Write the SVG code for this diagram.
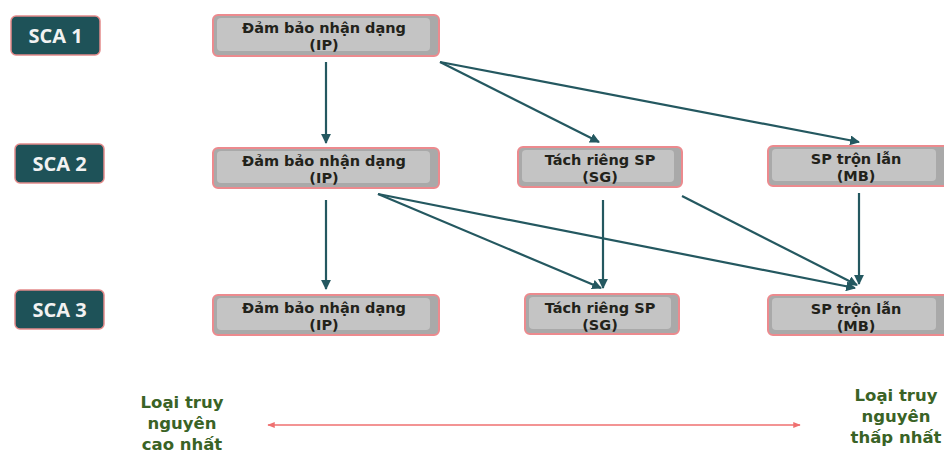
<svg xmlns="http://www.w3.org/2000/svg" width="944" height="457" viewBox="0 0 944 457">
<defs>
<style>
.sca rect{fill:#1e5258;stroke:#e38a8a;stroke-width:1.5}
.sca text{fill:#f2f2f2;font-family:"Open Sans","DejaVu Sans",sans-serif;font-weight:bold;font-size:20px;text-anchor:middle}
.node .outer{fill:#a9a9a9;stroke:#ec8a8e;stroke-width:2}
.node .inner{fill:#c4c4c4}
.node text{fill:#22221a;font-family:"DejaVu Sans",Verdana,sans-serif;font-weight:bold;font-size:14.5px;text-anchor:middle}
.conn line{stroke:#245860;stroke-width:2.2;marker-end:url(#ah)}
.note{fill:#3a6326;font-family:"DejaVu Sans",Verdana,sans-serif;font-weight:bold;font-size:16.5px;text-anchor:middle}
</style>
<marker id="ah" viewBox="0 0 10 10" refX="9" refY="5" markerWidth="4.5" markerHeight="4.5" orient="auto"><path d="M0,0 L10,5 L0,10 z" fill="#245860"/></marker>
<marker id="ph" viewBox="0 0 10 10" refX="9" refY="5" markerWidth="5" markerHeight="5" orient="auto-start-reverse"><path d="M0,1 L10,5 L0,9 z" fill="#ef7070"/></marker>
</defs>

<g id="sca1" class="sca"><rect x="11" y="16" width="89" height="39" rx="5"/><text x="55.5" y="43">SCA 1</text></g>
<g id="sca2" class="sca"><rect x="15" y="144" width="89" height="39" rx="5"/><text x="59.5" y="171">SCA 2</text></g>
<g id="sca3" class="sca"><rect x="15" y="290" width="89" height="39" rx="5"/><text x="59.5" y="317">SCA 3</text></g>

<g id="ip1" class="node"><rect class="outer" x="213" y="15" width="226" height="41" rx="5"/><rect class="inner" x="217" y="18" width="213" height="33" rx="4"/><text x="324" y="33">Đảm bảo nhận dạng</text><text x="324" y="50">(IP)</text></g>
<g id="ip2" class="node"><rect class="outer" x="213" y="148" width="226" height="40" rx="5"/><rect class="inner" x="217" y="151" width="213" height="32" rx="4"/><text x="324" y="166">Đảm bảo nhận dạng</text><text x="324" y="183">(IP)</text></g>
<g id="sg2" class="node"><rect class="outer" x="518" y="147" width="164" height="40" rx="5"/><rect class="inner" x="522" y="150" width="152" height="32" rx="4"/><text x="600" y="165">Tách riêng SP</text><text x="600" y="182">(SG)</text></g>
<g id="mb2" class="node"><rect class="outer" x="768" y="146" width="180" height="40" rx="5"/><rect class="inner" x="772" y="149" width="164" height="32" rx="4"/><text x="856" y="164">SP trộn lẫn</text><text x="856" y="181">(MB)</text></g>
<g id="ip3" class="node"><rect class="outer" x="213" y="295" width="226" height="40" rx="5"/><rect class="inner" x="217" y="298" width="213" height="32" rx="4"/><text x="324" y="313">Đảm bảo nhận dạng</text><text x="324" y="330">(IP)</text></g>
<g id="sg3" class="node"><rect class="outer" x="525" y="294" width="154" height="40" rx="5"/><rect class="inner" x="529" y="297" width="142" height="32" rx="4"/><text x="600" y="313">Tách riêng SP</text><text x="600" y="330">(SG)</text></g>
<g id="mb3" class="node"><rect class="outer" x="768" y="295" width="180" height="40" rx="5"/><rect class="inner" x="772" y="298" width="164" height="32" rx="4"/><text x="856" y="314">SP trộn lẫn</text><text x="856" y="331">(MB)</text></g>

<g id="connectors" class="conn">
<line x1="326" y1="62" x2="326" y2="143"/>
<line x1="440" y1="62" x2="599" y2="142"/>
<line x1="440" y1="62" x2="859" y2="142"/>
<line x1="326" y1="200" x2="326" y2="289"/>
<line x1="378" y1="194" x2="601" y2="288"/>
<line x1="378" y1="194" x2="855" y2="288"/>
<line x1="603" y1="200" x2="603" y2="288"/>
<line x1="682" y1="196" x2="857" y2="285"/>
<line x1="859" y1="193" x2="859" y2="284"/>
</g>

<g id="scale">
<line x1="268" y1="425" x2="800" y2="425" stroke="#ef7070" stroke-width="1.5" marker-start="url(#ph)" marker-end="url(#ph)"/>
<text class="note" x="182" y="408">Loại truy</text><text class="note" x="182" y="429">nguyên</text><text class="note" x="182" y="450">cao nhất</text>
<text class="note" x="896" y="401">Loại truy</text><text class="note" x="896" y="422">nguyên</text><text class="note" x="896" y="443">thấp nhất</text>
</g>
</svg>
